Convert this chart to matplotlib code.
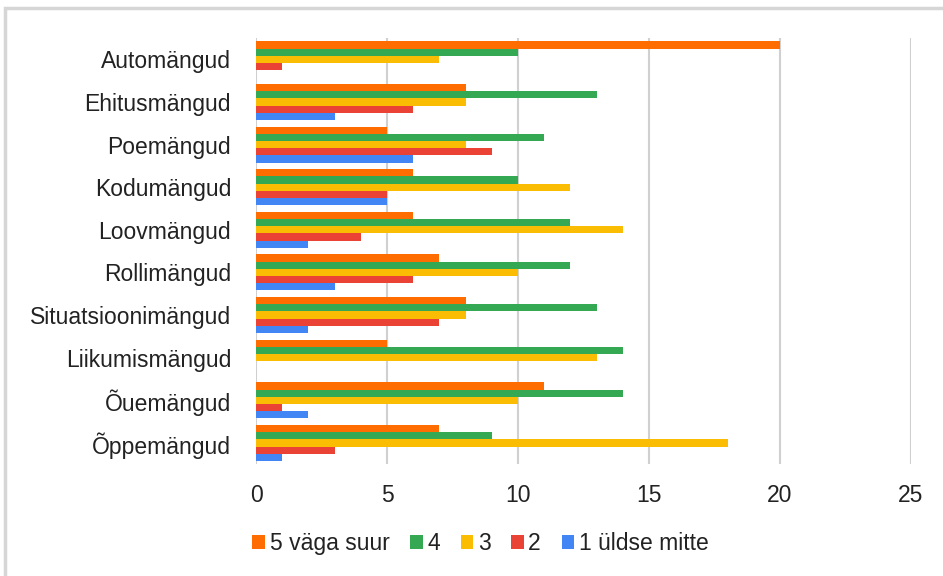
import matplotlib.pyplot as plt
import numpy as np
from matplotlib.patches import Rectangle

plt.rcParams['font.family'] = ['Liberation Sans Narrow', 'Liberation Sans', 'DejaVu Sans']

categories = ['Automängud', 'Ehitusmängud', 'Poemängud', 'Kodumängud', 'Loovmängud',
              'Rollimängud', 'Situatsioonimängud', 'Liikumismängud', 'Õuemängud', 'Õppemängud']
series_names = ['5 väga suur', '4', '3', '2', '1 üldse mitte']
v5 = [20, 8, 5, 6, 6, 7, 8, 5, 11, 7]
v4 = [10, 13, 11, 10, 12, 12, 13, 14, 14, 9]
v3 = [7, 8, 8, 12, 14, 10, 8, 13, 10, 18]
v2 = [1, 6, 9, 5, 4, 6, 7, 0, 1, 3]
v1 = [0, 3, 6, 5, 2, 3, 2, 0, 2, 1]
colors = ['#ff6d01', '#34a853', '#fbbc04', '#ea4335', '#4285f4']

fig = plt.figure(figsize=(9.43, 5.76), dpi=100)
ax = fig.add_axes([0.2715, 0.194, 0.966 - 0.2715, 0.74])

# outer frame, runs off the right and bottom edges like the screenshot
fig.patches.append(Rectangle((5 / 943, -0.05), 1.2, 1 - 8 / 576 + 0.05,
                             transform=fig.transFigure, fill=False, edgecolor='#d6d6d6', linewidth=2.5))

y = np.arange(len(categories))
h = 0.169
for i, (vals, name) in enumerate(zip([v5, v4, v3, v2, v1], series_names)):
    ax.barh(y + (i - 2) * h, vals, height=h, color=colors[i], label=name, zorder=3)

ax.set_xlim(0, 25)
ax.set_ylim(len(categories) - 0.5, -0.5)
ax.set_xticks([0, 5, 10, 15, 20, 25])
ax.set_yticks(y)
ax.set_yticklabels(categories)
ax.tick_params(axis='both', length=0, labelsize=16.5, colors='#222222')
ax.tick_params(axis='y', pad=18)
ax.tick_params(axis='x', pad=14)
ax.grid(axis='x', color='#d0d0d0', linewidth=1.5, zorder=0)
for s in ax.spines.values():
    s.set_visible(False)

leg = fig.legend(loc='lower left', bbox_to_anchor=(0.258, 0.02), ncol=5, frameon=False,
                 fontsize=16.5, handlelength=0.55, handleheight=0.55, handletextpad=0.2,
                 columnspacing=0.9, borderaxespad=0)
for t in leg.get_texts():
    t.set_color('#222222')

fig.savefig('out.png', dpi=100)
